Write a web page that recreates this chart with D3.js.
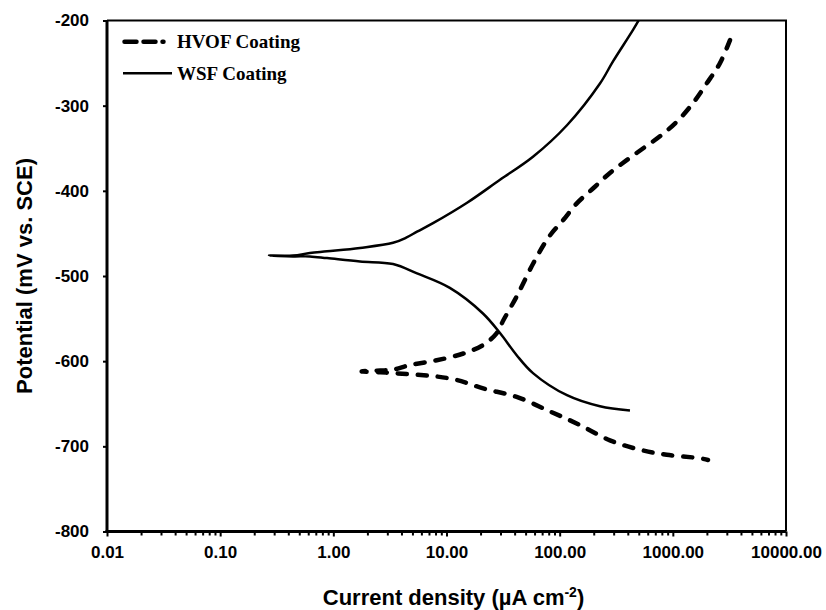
<!DOCTYPE html>
<html>
<head>
<meta charset="utf-8">
<script src="https://cdn.jsdelivr.net/npm/d3@7"></script>
<style>
  body { margin: 0; background: #fff; }
  svg { display: block; }
</style>
</head>
<body>
<script>
// HVOF coating: anodic branch from the top down to Ecorr, then cathodic branch
var hvofCurrent = [3200, 2610, 1990, 1507, 1081, 769, 548, 391, 278, 198, 141, 108, 80.4, 58.5, 41.7, 31.8, 27.8, 21.1, 14.1, 8.19, 4.76, 3.37, 2.6, 1.78,
                   2.6, 3.37, 5.49, 8.19, 12.3, 21.1, 41.7, 82.1, 151, 278, 513, 883, 1738, 2045];
var hvofPotential = [-223, -250, -274, -297, -319, -336, -350, -364, -379, -397, -415, -434, -454, -485, -524, -552, -567, -581, -591, -599, -604.5, -610, -611, -612,
                     -613, -614, -616, -618, -622, -632, -642, -659, -675, -693, -704, -710, -714, -716];

// WSF coating
var wsfCurrent = [513, 445, 296, 227, 116, 58.1, 29.7, 15.2, 7.6, 5.49, 4.4, 3.37, 1.72, 0.88, 0.62, 0.44, 0.27,
                  0.44, 0.62, 0.88, 1.72, 3.37, 5.49, 10.7, 21.0, 29.7, 41.7, 58.1, 116, 227, 418];
var wsfPotential = [-197, -211, -248, -274, -323, -360, -387, -414, -438, -448, -455, -461, -467, -471, -473, -476, -476,
                    -477, -477, -479, -483, -486, -497, -514, -544, -567, -593, -614, -640, -653, -658];

var xTicks = [0.01, 0.1, 1, 10, 100, 1000, 10000];
var yTicks = [-800, -700, -600, -500, -400, -300, -200];
var seriesNames = ["HVOF Coating", "WSF Coating"];

var width = 826, height = 610;
var plotL = 107, plotR = 786, plotT = 20.5, plotB = 531.5;

var svg = d3.select("body").append("svg")
    .attr("width", width)
    .attr("height", height);

var x = d3.scaleLog().domain([0.01, 10000]).range([plotL, plotR]);
var y = d3.scaleLinear().domain([-800, -200]).range([plotB, plotT]);

svg.append("defs").append("clipPath").attr("id", "plot")
    .append("rect")
    .attr("x", plotL).attr("y", plotT)
    .attr("width", plotR - plotL).attr("height", plotB - plotT);

// top + right border (thinner)
svg.append("path")
    .attr("d", "M" + plotL + "," + plotT + "H" + plotR + "V" + plotB)
    .attr("fill", "none")
    .attr("stroke", "#000")
    .attr("stroke-width", 2);

// minor x ticks
var minor = [];
for (var e = -2; e < 4; e++) {
    for (var m = 2; m < 10; m++) minor.push(m * Math.pow(10, e));
}
svg.append("g")
    .attr("transform", "translate(0," + plotB + ")")
    .call(d3.axisBottom(x).tickValues(minor).tickSize(4).tickFormat(""))
    .call(function(g) { g.select(".domain").remove(); })
    .selectAll("line").attr("stroke-width", 2);

var xAxis = svg.append("g")
    .attr("transform", "translate(0," + plotB + ")")
    .call(d3.axisBottom(x).tickValues(xTicks).tickSize(5).tickPadding(9)
        .tickFormat(function(d) { return d.toFixed(2); }));

var yAxis = svg.append("g")
    .attr("transform", "translate(" + plotL + ",0)")
    .call(d3.axisLeft(y).tickValues(yTicks).tickSize(4).tickPadding(14)
        .tickFormat(function(d) { return String(d); }));

[xAxis, yAxis].forEach(function(a) {
    a.select(".domain").attr("stroke-width", 3).attr("d", a === xAxis
        ? "M" + (plotL - 1.5) + ",0H" + plotR
        : "M0," + plotT + "V" + (plotB + 1.5));
    a.selectAll("line").attr("stroke-width", 2);
    a.selectAll("text")
        .attr("fill", "#000")
        .style("font-family", "'Liberation Sans', Arial, sans-serif")
        .style("font-weight", "bold")
        .style("font-size", "17px");
});

var line = d3.line()
    .x(function(d) { return x(d[0]); })
    .y(function(d) { return y(d[1]); })
    .curve(d3.curveCatmullRom.alpha(0.5));

var hvof = hvofCurrent.map(function(c, i) { return [c, hvofPotential[i]]; });
var wsf = wsfCurrent.map(function(c, i) { return [c, wsfPotential[i]]; });

var curves = svg.append("g").attr("clip-path", "url(#plot)");

curves.append("path")
    .datum(wsf)
    .attr("d", line)
    .attr("fill", "none")
    .attr("stroke", "#000")
    .attr("stroke-width", 2.5);

curves.append("path")
    .datum(hvof)
    .attr("d", line)
    .attr("fill", "none")
    .attr("stroke", "#000")
    .attr("stroke-width", 4.5)
    .attr("stroke-linecap", "round")
    .attr("stroke-dasharray", "9 11");

// legend
var legend = svg.append("g");
legend.append("line")
    .attr("x1", 124.5).attr("x2", 170).attr("y1", 41.7).attr("y2", 41.7)
    .attr("stroke", "#000").attr("stroke-width", 4.5)
    .attr("stroke-linecap", "round").attr("stroke-dasharray", "12 7 12 7 1 30");
legend.append("line")
    .attr("x1", 123).attr("x2", 172).attr("y1", 73.3).attr("y2", 73.3)
    .attr("stroke", "#000").attr("stroke-width", 2.5);

legend.selectAll("text")
    .data(seriesNames)
    .enter().append("text")
    .attr("x", 177)
    .attr("y", function(d, i) { return i === 0 ? 47.5 : 79.5; })
    .style("font-family", "'Liberation Serif', 'Times New Roman', serif")
    .style("font-weight", "bold")
    .style("font-size", "19px")
    .text(function(d) { return d; });

// axis titles
var xt = svg.append("text")
    .attr("x", (plotL + plotR) / 2 + 7)
    .attr("y", 605)
    .attr("text-anchor", "middle")
    .style("font-family", "'Liberation Sans', Arial, sans-serif")
    .style("font-weight", "bold")
    .style("font-size", "22px");
xt.append("tspan").text("Current density (µA cm");
xt.append("tspan").attr("dy", -8).style("font-size", "14px").text("-2");
xt.append("tspan").attr("dy", 8).text(")");

svg.append("text")
    .attr("transform", "translate(32," + ((plotT + plotB) / 2) + ") rotate(-90)")
    .attr("text-anchor", "middle")
    .style("font-family", "'Liberation Sans', Arial, sans-serif")
    .style("font-weight", "bold")
    .style("font-size", "22px")
    .text("Potential (mV vs. SCE)");
</script>
</body>
</html>
